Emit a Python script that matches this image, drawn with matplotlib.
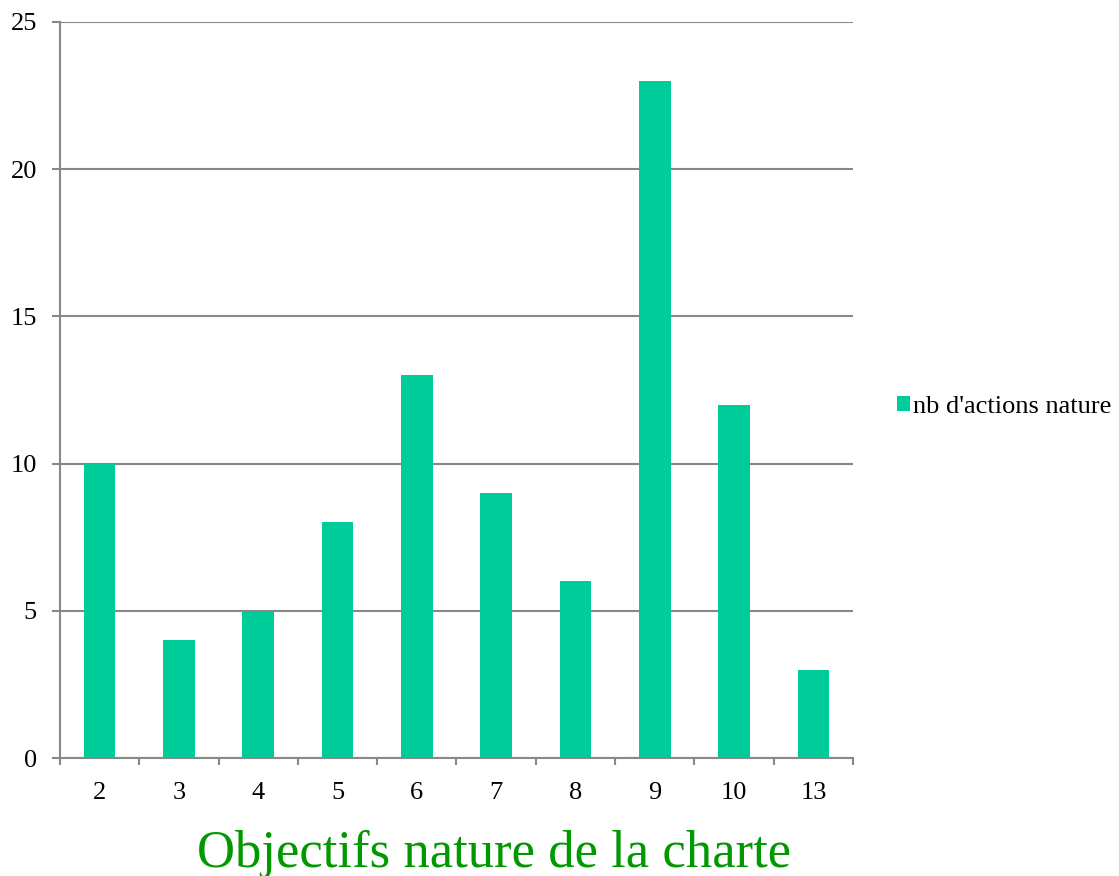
import numpy as np
import matplotlib
matplotlib.use("Agg")
import matplotlib.pyplot as plt
from matplotlib.ticker import FixedLocator

categories = ["2", "3", "4", "5", "6", "7", "8", "9", "10", "13"]
actions = [10, 4, 5, 8, 13, 9, 6, 23, 12, 3]
series_name = "nb d'actions nature"
x_title = "Objectifs nature de la charte"

plt.rcParams['font.family'] = ['Liberation Serif', 'DejaVu Serif']

fig = plt.figure(figsize=(11.19, 8.76), dpi=100)
ax = fig.add_axes([0.0536, 0.1347, 0.7087, 0.8402])

x = np.arange(len(categories))
ax.bar(x, actions, width=0.4, color="#00CC99", label=series_name, zorder=3)

ax.set_xlim(-0.5, len(categories) - 0.5)
ax.set_ylim(0, 25)
ax.set_yticks([0, 5, 10, 15, 20, 25])
ax.yaxis.grid(True, color="#888888", linewidth=1.5, zorder=0)

ax.set_xticks(x)
ax.set_xticklabels(categories)
ax.xaxis.set_minor_locator(FixedLocator(np.arange(len(categories) + 1) - 0.5))
ax.tick_params(axis="x", which="major", length=0, pad=17, labelsize=19)
ax.tick_params(axis="x", which="minor", length=5, width=1.5, color="#888888")
ax.tick_params(axis="y", length=5.8, width=1.5, color="#888888", pad=10.8, labelsize=19)

for s in ["top", "right"]:
    ax.spines[s].set_visible(False)
for s in ["left", "bottom"]:
    ax.spines[s].set_color("#888888")
    ax.spines[s].set_linewidth(1.5)

fig.text(0.4415, 0.025, x_title, fontsize=38, color="#009900",
         ha="center", va="center")

fig.legend(loc="center left", bbox_to_anchor=(0.8016, 0.535), frameon=False,
           fontsize=19, handlelength=0.5, handleheight=0.5, handletextpad=0.12,
           borderpad=0, borderaxespad=0)

fig.savefig("out.png", dpi=100)
